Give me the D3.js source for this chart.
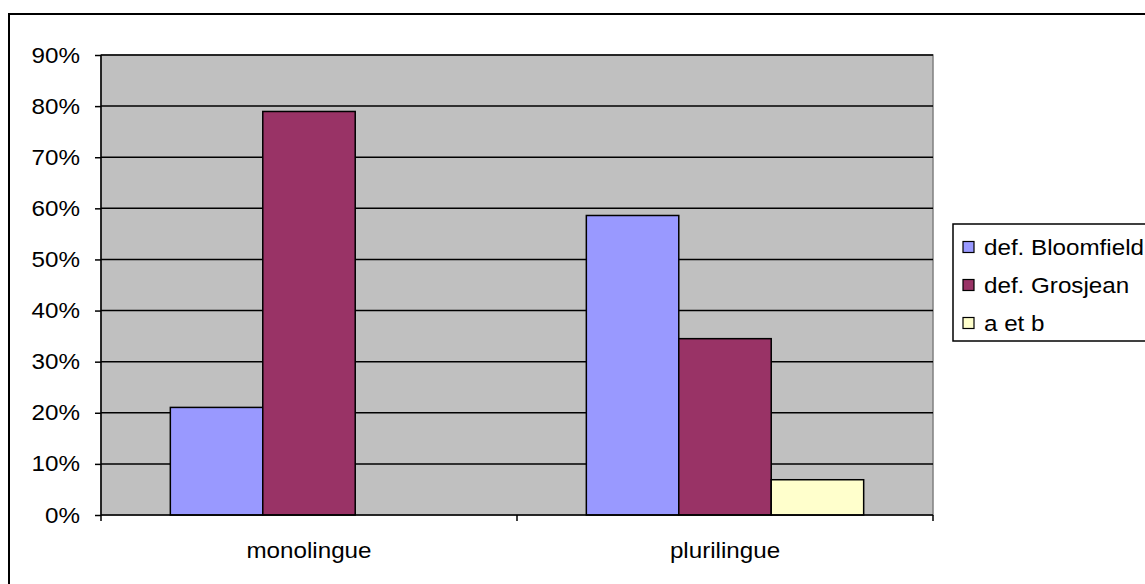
<!DOCTYPE html>
<html><head><meta charset="utf-8">
<script src="https://cdn.jsdelivr.net/npm/d3@7"></script>
<style>body{margin:0;background:#fff}svg{display:block}text{font-family:"Liberation Sans",Arial,sans-serif;fill:#000}</style>
</head><body><svg id="c" width="1145" height="584"></svg>
<script>
const categories = ["monolingue", "plurilingue"];
const seriesNames = ["def. Bloomfield", "def. Grosjean", "a et b"];
const bloomfield = [21.05, 58.6];
const grosjean = [78.95, 34.5];
const aetb = [0, 6.9];
const yTicks = [0, 10, 20, 30, 40, 50, 60, 70, 80, 90];
const colors = ["#9999FF", "#993366", "#FFFFCC"];

const series = [bloomfield, grosjean, aetb];
const svg = d3.select("#c");
const L = 101, R = 933, T = 55, B = 515;
const fs = 22, sx = 1.1;
const stretch = x0 => `translate(${x0},0) scale(${sx},1) translate(${-x0},0)`;

svg.append("rect").attr("x", 9).attr("y", 14).attr("width", 1145).attr("height", 600)
  .attr("fill", "#fff").attr("stroke", "#000").attr("stroke-width", 2);

const x = d3.scaleBand().domain(categories).range([L, R]).paddingInner(0).paddingOuter(0);
const y = d3.scaleLinear().domain([0, 90]).range([B, T]);

svg.append("rect").attr("x", L).attr("y", T).attr("width", R - L).attr("height", B - T)
  .attr("fill", "#C0C0C0").attr("stroke", "#808080").attr("stroke-width", 1.5);

svg.append("g").selectAll("line").data(yTicks.filter(d => d > 0)).join("line")
  .attr("x1", L).attr("x2", R).attr("y1", d => y(d)).attr("y2", d => y(d))
  .attr("stroke", "#000").attr("stroke-width", 1.5);

const bw = x.bandwidth() / 4.5;
const xs = d3.scaleBand().domain(d3.range(3)).range([0.75 * bw, 3.75 * bw]);
categories.forEach((c, ci) => {
  series.forEach((s, si) => {
    if (s[ci] <= 0) return;
    svg.append("rect").attr("x", x(c) + xs(si)).attr("y", y(s[ci]))
      .attr("width", xs.bandwidth()).attr("height", B - y(s[ci]))
      .attr("fill", colors[si]).attr("stroke", "#000").attr("stroke-width", 1.5);
  });
});

const yAxis = svg.append("g").attr("transform", `translate(${L},0)`)
  .call(d3.axisLeft(y).tickValues(yTicks).tickFormat(d => d + "%").tickSize(6).tickPadding(15));
yAxis.select(".domain").attr("stroke", "#000").attr("stroke-width", 1.5).attr("d", `M0,${T}V${B}`);
yAxis.selectAll(".tick line").attr("stroke", "#000").attr("stroke-width", 1.5);
yAxis.selectAll("text").attr("font-size", fs).attr("font-family", "Liberation Sans").attr("fill", "#000")
  .attr("transform", stretch(-21));

const xAxis = svg.append("g").attr("transform", `translate(0,${B})`)
  .call(d3.axisBottom(x).tickSize(0).tickPadding(27));
xAxis.select(".domain").attr("stroke", "#000").attr("stroke-width", 1.5).attr("d", `M${L},0H${R}`);
xAxis.selectAll("text").attr("font-size", fs).attr("font-family", "Liberation Sans").attr("fill", "#000")
  .attr("transform", stretch(0));
svg.append("g").selectAll("line").data([L, L + x.bandwidth(), R]).join("line")
  .attr("x1", d => d).attr("x2", d => d).attr("y1", B).attr("y2", B + 6)
  .attr("stroke", "#000").attr("stroke-width", 1.5);

const lg = svg.append("g");
lg.append("rect").attr("x", 953).attr("y", 224).attr("width", 220).attr("height", 117)
  .attr("fill", "#fff").attr("stroke", "#000").attr("stroke-width", 1.5);
const rowsY = [247, 285, 323];
seriesNames.forEach((n, i) => {
  lg.append("rect").attr("x", 963).attr("y", rowsY[i] - 5.5).attr("width", 11).attr("height", 11)
    .attr("fill", colors[i]).attr("stroke", "#000").attr("stroke-width", 1.2);
  lg.append("text").attr("x", 984).attr("y", rowsY[i]).attr("dy", "0.36em")
    .attr("font-size", fs).attr("transform", stretch(984)).text(n);
});
</script></body></html>
